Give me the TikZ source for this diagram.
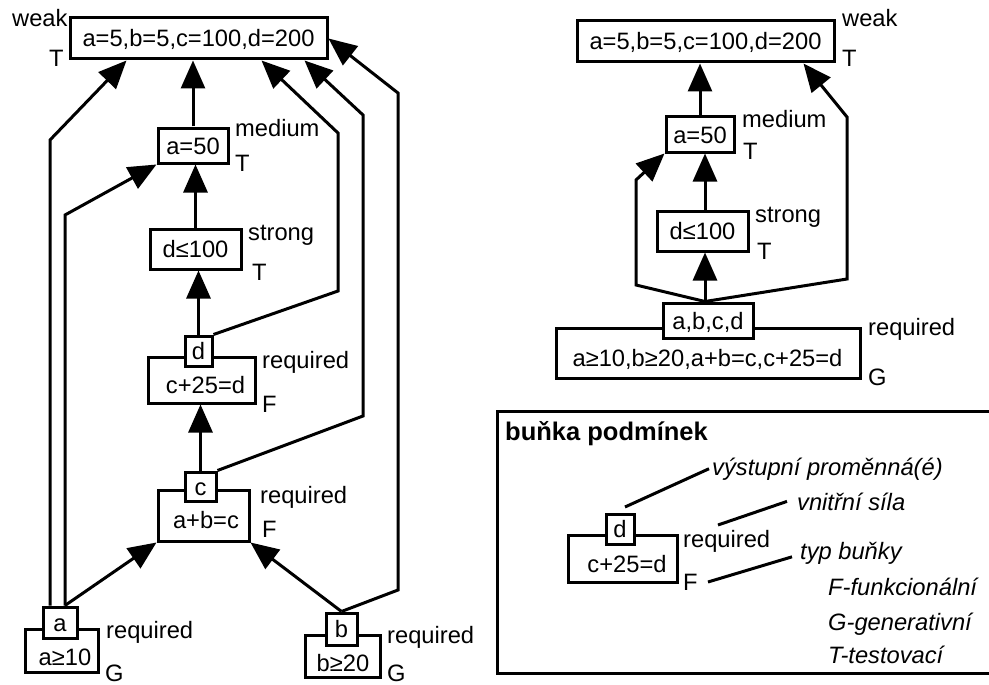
\documentclass[tikz,border=0pt]{standalone}
\usepackage{fontspec}
\setmainfont{Liberation Sans}
\usetikzlibrary{arrows.meta}

\tikzset{
  cellbox/.style={draw, line width=3pt, inner sep=0pt, fill=white,
    text height=17pt, text depth=0pt},
  lbl/.style={anchor=base west, inner sep=0pt},
  txt/.style={anchor=base, inner sep=0pt},
  wire/.style={line width=3pt},
  arr/.style={line width=3pt, -{Triangle[length=28pt,width=24pt]}},
  note/.style={anchor=base west, inner sep=0pt, font=\fontsize{23.7pt}{28pt}\selectfont\itshape},
}

\begin{document}
\begin{tikzpicture}[x=1pt, y=-1pt, font=\fontsize{23.7pt}{28pt}\selectfont]
\useasboundingbox (0,0) rectangle (989,685);

% ---------------- left network ----------------
\node[cellbox, minimum width=257pt, minimum height=41pt] (topL) at (198.5,38.5) {a=5,b=5,c=100,d=200};
\node[lbl] (weakL) at (12,27) {weak};
\node[lbl] (typeTopL) at (49,67) {T};

\node[cellbox, minimum width=70pt, minimum height=35pt] (a50L) at (193,145.5) {a=50};
\node[lbl] (medL) at (235,136) {medium};
\node[lbl] (typeA50L) at (235,171) {T};

\node[cellbox, minimum width=91pt, minimum height=40pt] (d100L) at (195.5,249) {d≤100};
\node[lbl] (strL) at (248,240) {strong};
\node[lbl] (typeD100L) at (252,280) {T};

\node[cellbox, minimum width=107pt, minimum height=46pt] (c25L) at (201.5,380) {};
\node[txt] (c25Lt) at (205.5,393) {c+25=d};
\node[cellbox, minimum width=27pt, minimum height=30pt] (dL) at (198.5,351) {d};
\node[lbl] (reqC25L) at (262,368) {required};
\node[lbl] (typeC25L) at (262,412) {F};

\node[cellbox, minimum width=91pt, minimum height=51pt] (abcL) at (203.5,515.5) {};
\node[txt] (abcLt) at (206,528) {a+b=c};
\node[cellbox, minimum width=31pt, minimum height=29pt] (cL) at (200.5,486.5) {c};
\node[lbl] (reqAbcL) at (260,503) {required};
\node[lbl] (typeAbcL) at (262,537) {F};

\node[cellbox, minimum width=73pt, minimum height=43pt] (a10L) at (61.5,650.5) {};
\node[txt] (a10Lt) at (65,665) {a≥10};
\node[cellbox, minimum width=34pt, minimum height=31pt] (aL) at (60,622.5) {a};
\node[lbl] (reqA10L) at (106,638) {required};
\node[lbl] (typeA10L) at (105,681) {G};

\node[cellbox, minimum width=75pt, minimum height=42pt] (b20L) at (342.5,656) {};
\node[txt] (b20Lt) at (343,671) {b≥20};
\node[cellbox, minimum width=31pt, minimum height=32pt] (bL) at (341.5,629) {b};
\node[lbl] (reqB20L) at (387,643) {required};
\node[lbl] (typeB20L) at (387,681) {G};

% bend points of the long connectors
\coordinate (ka1) at (50,140);
\coordinate (ka2) at (65,215);
\coordinate (kb1) at (398,590);
\coordinate (kb2) at (398,93);
\coordinate (kc1) at (363,416);
\coordinate (kc2) at (363,115);
\coordinate (kd1) at (338,291);
\coordinate (kd2) at (338,133);

\draw[arr] (aL.north -| ka1) -- (ka1) -- ([xshift=58pt]topL.south west);
\draw[arr] (aL.north -| ka2) -- (ka2) -- (a50L.south west);
\draw[arr] (aL.north -| ka2) -- (abcL.south west);
\draw[arr] (bL.north) -- (abcL.south east);
\draw[arr] (bL.north) -- (kb1) -- (kb2) -- (topL.east);
\draw[arr] (cL.north east) -- (kc1) -- (kc2) -- ([xshift=-24pt]topL.south east);
\draw[arr] (dL.north east) -- (kd1) -- (kd2) -- ([xshift=-67pt]topL.south east);
\draw[arr] (cL.north) -- (cL.north |- c25L.south);
\draw[arr] (dL.north) -- (dL.north |- d100L.south);
\draw[arr] (d100L.north) -- (d100L.north |- a50L.south);
\draw[arr] (a50L.north) -- (a50L.north |- topL.south);

% ---------------- right network ----------------
\node[cellbox, minimum width=257pt, minimum height=41pt] (topR) at (705.5,41.5) {a=5,b=5,c=100,d=200};
\node[lbl] (weakR) at (842,27) {weak};
\node[lbl] (typeTopR) at (842,67) {T};

\node[cellbox, minimum width=68pt, minimum height=35pt] (a50R) at (700,134.5) {a=50};
\node[lbl] (medR) at (742,128) {medium};
\node[lbl] (typeA50R) at (743,160) {T};

\node[cellbox, minimum width=91pt, minimum height=40pt] (d100R) at (702.5,231) {d≤100};
\node[lbl] (strR) at (755,222) {strong};
\node[lbl] (typeD100R) at (757,259) {T};

\node[cellbox, minimum width=304pt, minimum height=50pt] (allR) at (708,353) {};
\node[txt] (allRt) at (707.5,366) {a≥10,b≥20,a+b=c,c+25=d};
\node[cellbox, minimum width=90pt, minimum height=35pt] (varsR) at (708,320.5) {a,b,c,d};
\node[lbl] (reqAllR) at (868,335) {required};
\node[lbl] (typeAllR) at (868,385) {G};

\coordinate (rs) at ([xshift=-3pt]varsR.north);
\coordinate (kr1) at (636,285);
\coordinate (kr2) at (636,180);
\coordinate (kr3) at (847,279);
\coordinate (kr4) at (847,117);

\draw[arr] (rs) -- (rs |- d100R.south);
\draw[arr] (d100R.north -| rs) -- (rs |- a50R.south);
\draw[arr] (a50R.north) -- (a50R.north |- topR.south);
\draw[arr] (rs) -- (kr1) -- (kr2) -- (a50R.south west);
\draw[arr] (rs) -- (kr3) -- (kr4) -- ([xshift=-32pt]topR.south east);

% ---------------- legend ----------------
\draw[wire] (995,411) -- (497,411) -- (497,673) -- (995,673);
\node[lbl, font=\fontsize{25.5pt}{30pt}\selectfont\bfseries] (legTitle) at (505,440) {buňka podmínek};

\node[cellbox, minimum width=109pt, minimum height=47pt] (c25G) at (622.5,558.5) {};
\node[txt] (c25Gt) at (627,572) {c+25=d};
\node[cellbox, minimum width=28pt, minimum height=30pt] (dG) at (620,529) {d};
\node[lbl] (reqG) at (683,547) {required};
\node[lbl] (typeG) at (683,590) {F};

\node[note] (outVar) at (712,475) {výstupní proměnná(é)};
\node[note] (inStr) at (797,510) {vnitřní síla};
\node[note] (cellType) at (800,559) {typ buňky};
\node[note] (typeF) at (828,595) {F-funkcionální};
\node[note] (typeGen) at (828,630) {G-generativní};
\node[note] (typeT) at (828,663) {T-testovací};

\coordinate (lg1) at (625,507);
\coordinate (lg2) at (718,525);
\coordinate (lg3) at (708,582);
\draw[wire] (lg1) -- ([xshift=-3pt]outVar.west);
\draw[wire] (lg2) -- ([xshift=-10pt]inStr.west);
\draw[wire] (lg3) -- ([xshift=-8pt,yshift=-4pt]cellType.west);
\end{tikzpicture}
\end{document}
